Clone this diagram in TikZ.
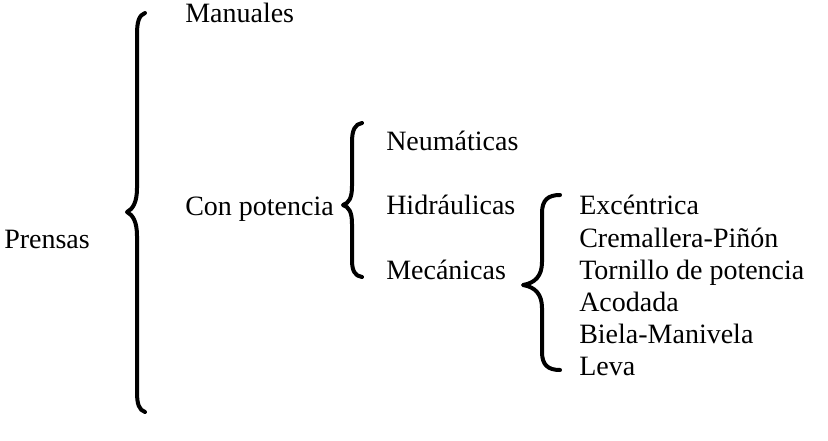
\documentclass[tikz,border=0pt]{standalone}
\usepackage{fontspec}
\setmainfont{Liberation Serif}
\begin{document}
\begin{tikzpicture}[x=0.75pt,y=-0.75pt,
  lbl/.style={anchor=base west,inner sep=0pt,font=\fontsize{21}{25}\selectfont},
  brace/.style={line width=3pt,line cap=round,line join=round}]
\useasboundingbox (0,0) rectangle (828,440);
% texts
\node[lbl] (prensas) at (4,248) {Prensas};
\node[lbl] (manuales) at (185,22) {Manuales};
\node[lbl] (conpot) at (185,215) {Con potencia};
\node[lbl] (neum) at (386,150) {Neumáticas};
\node[lbl] (hidr) at (386,214) {Hidráulicas};
\node[lbl] (mec) at (386,279) {Mecánicas};
\node[lbl] (exc) at (579,214) {Excéntrica};
\node[lbl] (crem) at (579,247) {Cremallera-Piñón};
\node[lbl] (torn) at (579,279) {Tornillo de potencia};
\node[lbl] (acod) at (579,311) {Acodada};
\node[lbl] (biela) at (579,343) {Biela-Manivela};
\node[lbl] (leva) at (579,375) {Leva};
% braces
\draw[brace] (145,13) .. controls (139,15) and (137,22) .. (137,34) -- (137,188)
  .. controls (137,202) and (133,209) .. (127,212)
  .. controls (133,215) and (137,222) .. (137,236) -- (137,392)
  .. controls (137,404) and (139,410) .. (145,412);
\draw[brace] (362,123) .. controls (355,124) and (352,130) .. (352,142) -- (352,186)
  .. controls (352,198) and (349,203) .. (343,205)
  .. controls (349,207) and (352,212) .. (352,224) -- (352,260)
  .. controls (352,271) and (355,276) .. (362,277);
\draw[brace] (560,195) .. controls (548,195) and (542,200) .. (542,213) -- (542,262)
  .. controls (542,276) and (535,283) .. (523,285)
  .. controls (535,287) and (542,294) .. (542,308) -- (542,352)
  .. controls (542,365) and (548,370) .. (560,370);
\end{tikzpicture}
\end{document}
